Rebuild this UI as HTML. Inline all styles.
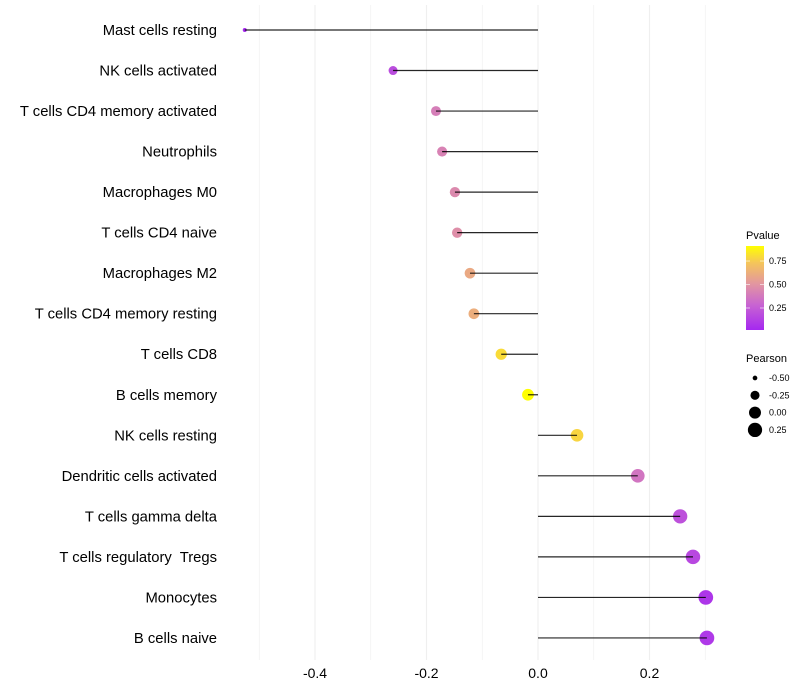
<!DOCTYPE html>
<html><head><meta charset="utf-8"><style>
body{margin:0;background:#fff}
svg{font-family:"Liberation Sans",sans-serif;display:block}
text{white-space:pre}
</style></head><body>
<svg id="c" width="800" height="700"></svg>
<script>
const categories=["Mast cells resting","NK cells activated","T cells CD4 memory activated","Neutrophils","Macrophages M0","T cells CD4 naive","Macrophages M2","T cells CD4 memory resting","T cells CD8","B cells memory","NK cells resting","Dendritic cells activated","T cells gamma delta","T cells regulatory  Tregs","Monocytes","B cells naive"];
const pearson=[-0.526,-0.26,-0.183,-0.172,-0.149,-0.145,-0.122,-0.115,-0.066,-0.018,0.07,0.179,0.255,0.278,0.301,0.303];
const pvalue=[0.02,0.18,0.4,0.42,0.45,0.47,0.6,0.62,0.8,0.91,0.78,0.36,0.2,0.16,0.08,0.09];
const xTicks=[-0.4,-0.2,0,0.2];
const xMinor=[-0.5,-0.3,-0.1,0.1,0.3];
const pTicks=[0.25,0.5,0.75];
const sizeTicks=[-0.5,-0.25,0,0.25];

const svg=document.getElementById('c');const NS='http://www.w3.org/2000/svg';
function mk(t,a,p){const e=document.createElementNS(NS,t);for(const k in a)e.setAttribute(k,a[k]);(p||svg).appendChild(e);return e;}
const x=v=>538+v*557.5;
const y=i=>30+i*40.53;
const pMin=0.016,pMax=0.91;
const stops=[[0,[165,40,240]],[0.3,[200,100,210]],[0.55,[226,150,160]],[0.8,[245,197,90]],[1,[255,255,0]]];
function col(p){let t=Math.max(0,Math.min(1,(p-pMin)/(pMax-pMin)));for(let i=1;i<stops.length;i++){if(t<=stops[i][0]){const a=stops[i-1],b=stops[i];const f=(t-a[0])/(b[0]-a[0]);const c=a[1].map((v,k)=>Math.round(v+(b[1][k]-v)*f));return `rgb(${c})`;}}return 'rgb(255,255,0)';}
const sMin=-0.526,sMax=0.303;
const rad=v=>Math.sqrt(4+50*(v-sMin)/(sMax-sMin));
xMinor.concat(xTicks).forEach(v=>{const g=mk('line',{x1:x(v),x2:x(v),y1:5,y2:660,stroke:'#efefef','stroke-width':xTicks.includes(v)?1.1:0.6});
});
xTicks.forEach(v=>{const t=mk('text',{x:x(v),y:678,'text-anchor':'middle','font-size':14,fill:'#000'});t.textContent=v===0?'0.0':v.toFixed(1);
});
categories.forEach((c,i)=>{
 const t=mk('text',{x:217,y:y(i)+5,'text-anchor':'end','font-size':14.8,fill:'#000'});t.textContent=c;
 
 const pt=mk('circle',{cx:x(pearson[i]),cy:y(i),r:rad(pearson[i]),fill:col(pvalue[i])});
 
 const l=mk('line',{x1:x(0),x2:x(pearson[i]),y1:y(i),y2:y(i),stroke:'#000','stroke-width':1.2,'stroke-opacity':0.85});
 
});
const defs=mk('defs',{});const lg=mk('linearGradient',{id:'g',x1:0,y1:1,x2:0,y2:0},defs);
stops.forEach(s=>mk('stop',{offset:s[0],'stop-color':`rgb(${s[1]})`},lg));
let tt=mk('text',{x:746,y:239,'font-size':11});tt.textContent='Pvalue';

const cb=mk('rect',{x:746,y:246,width:18,height:84,fill:'url(#g)'});

const cy=p=>330-(p-pMin)/(pMax-pMin)*84;
pTicks.forEach(p=>{mk('line',{x1:746,x2:750,y1:cy(p),y2:cy(p),stroke:'#fff','stroke-opacity':0.6});mk('line',{x1:760,x2:764,y1:cy(p),y2:cy(p),stroke:'#fff','stroke-opacity':0.6});
 const t=mk('text',{x:769,y:cy(p)+3,'font-size':9});t.textContent=p.toFixed(2);
 });
tt=mk('text',{x:746,y:362,'font-size':11});tt.textContent='Pearson';

sizeTicks.forEach((v,i)=>{const yy=378+i*17.3;const c=mk('circle',{cx:755,cy:yy,r:rad(v),fill:'#000'});
 
 const t=mk('text',{x:769,y:yy+3,'font-size':9});t.textContent=v.toFixed(2);
 });
</script>
</body></html>
